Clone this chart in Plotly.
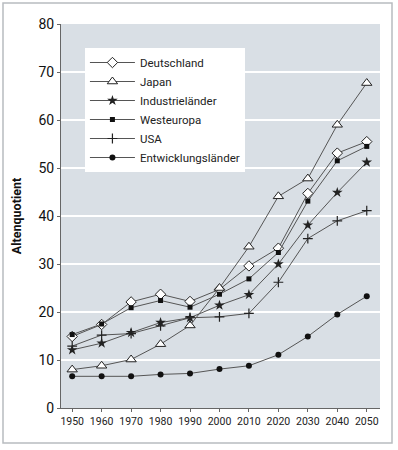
import plotly.graph_objects as go

years = [1950, 1960, 1970, 1980, 1990, 2000, 2010, 2020, 2030, 2040, 2050]
deutschland = [14.9, 17.4, 22.1, 23.7, 22.2, 24.7, 29.6, 33.3, 44.7, 53.1, 55.5]
japan = [8.0, 8.8, 10.1, 13.3, 17.2, 25.0, 33.6, 44.1, 47.8, 59.0, 67.7]
industrie = [12.1, 13.5, 15.7, 17.8, 18.8, 21.4, 23.6, 30.0, 38.1, 44.9, 51.2]
westeuropa = [15.3, 17.5, 20.9, 22.4, 21.0, 23.7, 26.9, 32.4, 43.1, 51.5, 54.5]
usa = [12.9, 15.2, 15.5, 17.1, 18.8, 19.0, 19.7, 26.2, 35.3, 39.0, 41.1]
entwicklung = [6.6, 6.6, 6.6, 7.0, 7.2, 8.1, 8.8, 11.1, 14.9, 19.5, 23.3]

series = [
    ("Deutschland", deutschland, dict(symbol="diamond", color="white", size=8, line=dict(color="#222", width=1))),
    ("Japan", japan, dict(symbol="triangle-up", color="white", size=9, line=dict(color="#222", width=1))),
    ("Industrieländer", industrie, dict(symbol="star", color="#222", size=8, line=dict(color="#222", width=0))),
    ("Westeuropa", westeuropa, dict(symbol="square", color="#111", size=5, line=dict(color="#111", width=0))),
    ("USA", usa, dict(symbol="cross-thin", color="#222", size=7, line=dict(color="#222", width=1.2))),
    ("Entwicklungsländer", entwicklung, dict(symbol="circle", color="#111", size=6, line=dict(color="#111", width=0))),
]

fig = go.Figure()
for name, vals, mk in series:
    fig.add_trace(go.Scatter(x=years, y=vals, name=name, mode="lines+markers",
                             line=dict(color="#555", width=1), marker=mk))

fig.update_layout(
    width=398, height=450,
    margin=dict(l=61, r=18, t=24, b=42),
    paper_bgcolor="white",
    plot_bgcolor="#d9dfe5",
    font=dict(family="Roboto, Arial, sans-serif", color="#111"),
    showlegend=True,
    legend=dict(x=0.075, y=0.9375, xanchor="left", yanchor="top",
                bgcolor="white", borderwidth=0, tracegroupgap=0,
                font=dict(size=11.5, color="#222"), itemwidth=45),
    xaxis=dict(range=[1946.2, 2054.5], tickmode="array", tickvals=years,
               ticktext=[str(y) for y in years], showgrid=False, zeroline=False,
               showline=True, linecolor="#666", linewidth=1, ticks="outside",
               ticklen=3, tickcolor="#666", tickfont=dict(size=10.5, color="#222"),
               automargin=False),
    yaxis=dict(range=[0, 80], dtick=10, showgrid=True, gridcolor="white", gridwidth=1.5,
               zeroline=False, showline=True, linecolor="#666", linewidth=1,
               ticks="outside", ticklen=3, tickcolor="#666",
               tickfont=dict(size=14, color="#111"), automargin=False,
               title=dict(text="<b>Altenquotient</b>", font=dict(size=12.5, color="#111"), standoff=14)),
    shapes=[dict(type="rect", xref="paper", yref="paper",
                 x0=-58/319, x1=(392-61)/319, y0=-(443-408)/384, y1=(408-3)/384,
                 line=dict(color="#b8bcc0", width=1.5), fillcolor="rgba(0,0,0,0)", layer="below")],
)

fig.write_html("out.html", config={"displayModeBar": False},
               post_script="document.body.style.margin='0';document.body.style.overflow='hidden';")
